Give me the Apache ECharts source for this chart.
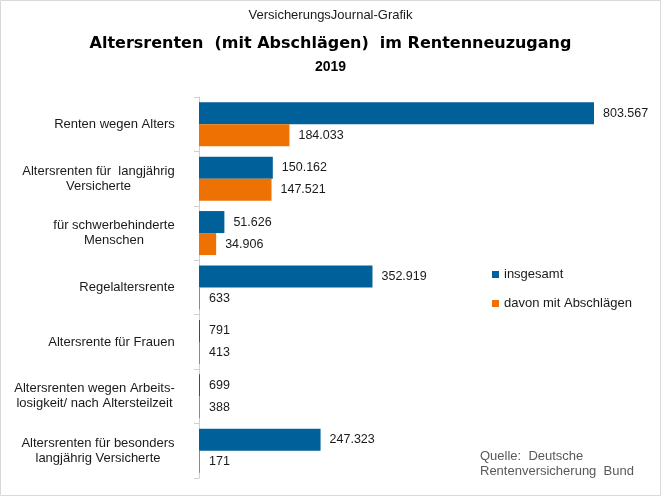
<!DOCTYPE html>
<html><head><meta charset="utf-8">
<script src="https://cdn.jsdelivr.net/npm/echarts@6/dist/echarts.min.js"></script>
<style>html,body{margin:0;padding:0;background:#fff}#c{width:661px;height:496px}</style>
</head><body><div id="c"></div>
<script>
const categories = [
  "Renten wegen Alters",
  "Altersrenten für  langjährig\nVersicherte",
  "für schwerbehinderte\nMenschen",
  "Regelaltersrente",
  "Altersrente für Frauen",
  "Altersrenten wegen Arbeits-\nlosigkeit/ nach Altersteilzeit",
  "Altersrenten für besonders\nlangjährig Versicherte"
];
const insgesamt = [803567, 150162, 51626, 352919, 791, 699, 247323];
const mitAbschlaegen = [184033, 147521, 34906, 633, 413, 388, 171];
const seriesNames = ["insgesamt", "davon mit Abschlägen"];

const fmt = v => String(v).replace(/\B(?=(\d{3})+(?!\d))/g, ".");
const FONT = "Liberation Sans, Arial, sans-serif";
const ctx = document.createElement('canvas').getContext('2d');
ctx.font = '13px ' + FONT;
const rich = {};
categories.forEach((c, i) => {
  const w = Math.max(...c.split('\n').map(l => ctx.measureText(l).width));
  rich['c' + i] = {width: Math.ceil(w), align: 'center', fontSize: 13, color: '#1a1a1a', lineHeight: 15, fontFamily: FONT};
});

const chart = echarts.init(document.getElementById('c'));
const labelCfg = {show: true, position: 'right', distance: 9, color: '#1a1a1a', fontSize: 12.5, fontFamily: FONT, formatter: p => fmt(p.value)};
chart.setOption({
  animation: false,
  textStyle: {fontFamily: FONT},
  title: [
    {text: 'VersicherungsJournal-Grafik', left: 'center', top: 4, textStyle: {fontSize: 13, fontWeight: 'normal', color: '#1a1a1a', fontFamily: FONT}},
    {text: 'Altersrenten  (mit Abschlägen)  im Rentenneuzugang', left: 'center', top: 31, textStyle: {fontSize: 16, fontWeight: 'bold', color: '#000', fontFamily: 'DejaVu Sans'}},
    {text: '2019', left: 'center', top: 55.5, textStyle: {fontSize: 14, fontWeight: 'bold', color: '#000', fontFamily: FONT}}
  ],
  graphic: [
    {type: 'rect', shape: {x: 0.5, y: 0.5, width: 660, height: 495}, style: {fill: 'none', stroke: '#d9d9d9', lineWidth: 1}},
    {type: 'text', left: 480, top: 449, style: {text: 'Quelle:  Deutsche\nRentenversicherung  Bund', fill: '#595959', font: '13px ' + FONT, lineHeight: 15}}
  ],
  legend: {
    orient: 'vertical', left: 487, top: 263, itemWidth: 7, itemHeight: 7, itemGap: 16, icon: 'rect',
    textStyle: {fontSize: 13, color: '#1a1a1a', fontFamily: FONT},
    data: seriesNames
  },
  grid: {left: 199, right: 19.6, top: 97, bottom: 18, containLabel: false},
  xAxis: {type: 'value', min: 0, max: 900000, show: false},
  yAxis: {
    type: 'category', inverse: true, data: categories,
    axisLine: {show: true, lineStyle: {color: '#d0d0d0'}},
    axisTick: {show: true, length: 5, lineStyle: {color: '#d0d0d0'}},
    axisLabel: {
      margin: 24, align: 'right', fontFamily: FONT, rich: rich,
      formatter: (v, i) => v.split('\n').map(l => '{c' + i + '|' + l + '}').join('\n')
    }
  },
  series: [
    {name: seriesNames[0], type: 'bar', data: insgesamt, barWidth: 22, barGap: '0%', barMinHeight: 1, itemStyle: {color: '#00619a'}, label: labelCfg},
    {name: seriesNames[1], type: 'bar', data: mitAbschlaegen, barWidth: 22, barGap: '0%', barMinHeight: 1, itemStyle: {color: '#ee7203'}, label: labelCfg}
  ]
});
</script></body></html>
